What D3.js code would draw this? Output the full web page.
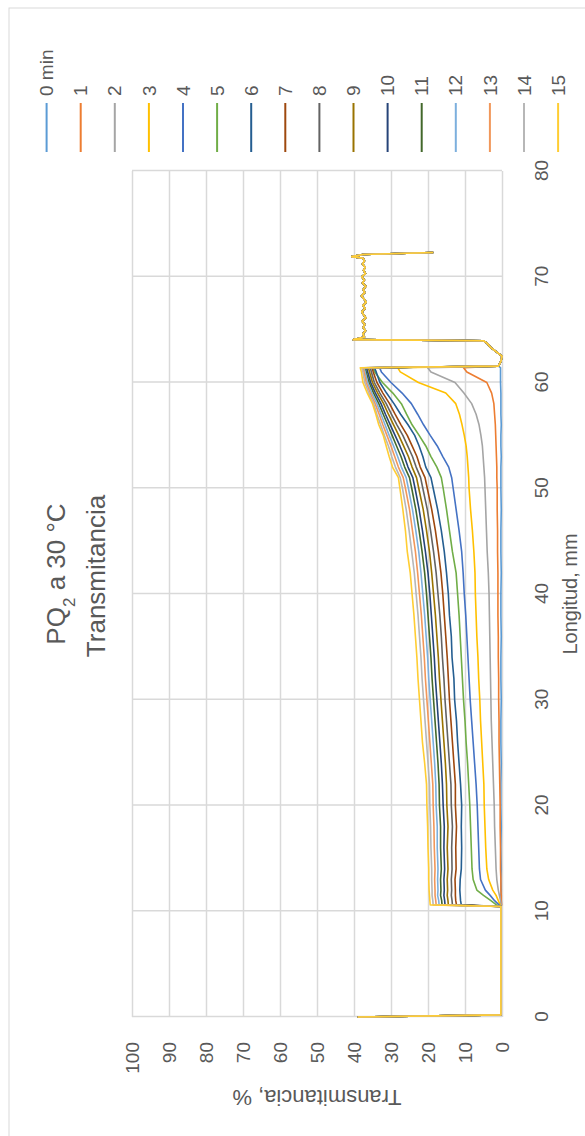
<!DOCTYPE html>
<html>
<head>
<meta charset="utf-8">
<script src="https://cdn.jsdelivr.net/npm/d3@7"></script>
<style>
  body { margin: 0; background: #fff; }
  svg text { font-family: "Liberation Sans", Arial, sans-serif; fill: #595959; }
</style>
</head>
<body>
<div class="chart"></div>
<script>
// series names and colours (Excel palette)
const seriesNames = ["0 min", "1", "2", "3", "4", "5", "6", "7", "8", "9", "10", "11", "12", "13", "14", "15"];
const seriesColors = ["#5B9BD5", "#ED7D31", "#A5A5A5", "#FFC000", "#4472C4", "#70AD47", "#255E91", "#9E480E",
                      "#636363", "#997300", "#264478", "#43682B", "#7CAFDD", "#F1975A", "#B7B7B7", "#FFCD33"];

const xTicks = [0, 10, 20, 30, 40, 50, 60, 70, 80];
const yTicks = [0, 10, 20, 30, 40, 50, 60, 70, 80, 90, 100];

// start of every profile (before the sample), mm / %
const headLengths = [0, 0.2, 10.45];
const headValues = [39, 0.3, 0.3];

// sample body, mm
const bodyLengths = [10.6, 11, 11.5, 12, 13, 14, 16, 18, 20, 22, 24, 26, 28, 30, 32, 34, 36, 38, 40, 42,
                     44, 46, 48, 50, 51, 52, 53, 54, 55, 56, 57, 58, 59, 60, 61, 61.4];

// transmittance along the body, % (one row per minute)
const body0 = [0.2,0.2,0.3,0.2,0.3,0.2,0.3,0.2,0.3,0.3,0.2,0.3,0.3,0.2,0.3,0.3,0.2,0.3,0.3,0.2,0.3,0.3,0.2,0.3,0.3,0.3,0.2,0.3,0.3,0.2,0.3,0.3,0.3,0.4,0.4,0.4];
const body1 = [0.1,0.2,0.2,0.3,0.3,0.4,0.4,0.5,0.5,0.6,0.7,0.8,0.8,0.9,0.9,1.0,1.0,1.1,1.1,1.1,1.2,1.2,1.3,1.3,1.4,1.4,1.5,1.6,1.7,1.8,2.0,2.2,2.8,4.1,9.5,10.4];
const body2 = [0.2,0.4,0.7,1.0,1.4,1.6,1.8,2.0,2.1,2.3,2.5,2.7,2.9,3.0,3.1,3.2,3.3,3.4,3.5,3.7,4.0,4.2,4.4,4.6,4.7,4.9,5.1,5.3,5.7,6.2,7.0,8.2,10.3,12.7,19.2,20.1];
const body3 = [0.5,1.0,1.6,2.5,3.6,4.1,4.4,4.6,4.8,4.9,5.2,5.5,5.8,6.0,6.3,6.5,6.8,7.0,7.2,7.3,7.6,8.0,8.5,8.9,9.0,9.2,9.4,9.7,10.2,10.8,11.5,12.5,15.2,22.6,27.5,28.2];
const body4 = [0.8,2.0,3.2,4.5,5.8,6.1,6.3,6.5,6.7,7.0,7.4,7.8,8.2,8.6,8.9,9.2,9.5,9.8,10.2,10.5,10.9,11.6,12.4,13.2,13.6,14.4,16.0,17.5,19.4,21.2,22.8,24.5,27.0,30.0,32.6,33.1];
const body5 = [1.5,3.0,5.0,6.8,7.8,8.1,8.3,8.5,8.7,9.0,9.3,9.7,10.0,10.4,10.7,11.0,11.3,11.6,12.0,12.4,13.4,14.2,15.0,15.9,16.4,17.6,19.2,20.6,22.4,24.3,25.8,27.2,29.5,32.3,34.4,34.9];
const body6 = [11.0,11.2,11.3,11.4,11.3,11.0,10.9,11.0,10.9,11.2,11.6,12.0,12.3,12.8,13.0,13.5,13.7,14.2,14.5,15.0,15.6,16.4,17.4,18.6,19.2,20.6,21.4,22.4,23.6,25.4,27.4,29.2,31.2,33.0,34.0,34.5];
const body7 = [12.3,12.5,12.6,12.6,12.7,12.4,12.5,12.3,12.6,12.6,13.0,13.4,13.8,14.2,14.5,14.8,15.2,15.6,16.0,16.5,17.2,18.0,19.0,20.2,20.8,22.1,23.0,24.3,25.6,27.3,28.9,30.4,32.2,33.8,34.8,35.1];
const body8 = [13.4,13.5,13.7,13.6,13.7,13.5,13.6,13.4,13.7,13.8,14.2,14.6,15.0,15.4,15.7,16.1,16.4,16.8,17.3,17.8,18.5,19.3,20.2,21.4,22.0,23.2,24.2,25.5,26.8,28.4,29.9,31.3,33.0,34.5,35.3,35.6];
const body9 = [14.5,14.6,14.8,14.7,14.8,14.6,14.8,14.6,14.9,15.0,15.3,15.7,16.1,16.5,16.9,17.2,17.6,18.0,18.5,19.0,19.6,20.4,21.3,22.5,23.1,24.3,25.3,26.6,27.9,29.3,30.7,32.0,33.6,35.0,35.8,36.1];
const body10 = [15.4,15.5,15.7,15.6,15.7,15.5,15.7,15.6,15.9,16.1,16.4,16.8,17.2,17.6,18.0,18.3,18.7,19.1,19.5,20.0,20.7,21.5,22.4,23.5,24.1,25.4,26.4,27.6,28.9,30.2,31.5,32.7,34.2,35.5,36.3,36.6];
const body11 = [16.2,16.3,16.6,16.5,16.6,16.4,16.6,16.6,16.9,17.0,17.3,17.7,18.1,18.5,18.9,19.2,19.6,20.0,20.4,20.9,21.6,22.4,23.3,24.4,25.0,26.3,27.3,28.5,29.7,30.9,32.1,33.3,34.7,35.9,36.7,37.0];
const body12 = [17.0,17.1,17.4,17.3,17.4,17.3,17.5,17.5,17.8,17.9,18.2,18.6,19.0,19.4,19.8,20.1,20.5,20.9,21.4,21.9,22.5,23.3,24.2,25.3,25.9,27.2,28.2,29.3,30.5,31.6,32.7,33.8,35.2,36.3,37.0,37.3];
const body13 = [17.8,17.9,18.1,18.1,18.2,18.1,18.3,18.4,18.6,18.7,19.1,19.5,19.9,20.3,20.7,21.0,21.4,21.8,22.3,22.8,23.4,24.2,25.0,26.1,26.7,28.0,29.0,30.0,31.1,32.2,33.2,34.3,35.6,36.7,37.3,37.6];
const body14 = [18.6,18.7,18.9,18.9,19.0,19.0,19.2,19.3,19.5,19.6,20.0,20.4,20.8,21.2,21.6,21.9,22.3,22.7,23.2,23.7,24.4,25.1,25.9,26.9,27.5,28.8,29.8,30.7,31.8,32.8,33.8,34.7,36.0,37.1,37.6,37.9];
const body15 = [19.4,19.5,19.6,19.7,19.8,19.8,20.0,20.1,20.3,20.4,20.9,21.5,21.9,22.3,22.7,23.0,23.4,23.8,24.3,24.8,25.6,26.1,26.8,27.6,28.0,29.6,30.5,31.3,32.1,33.3,34.1,35.0,36.4,37.6,38.0,38.3];

// end of every profile (after the sample), mm / %
const tailLengths = [61.55, 62.0, 62.5, 62.9, 63.3, 63.7, 63.95, 64.05, 64.3, 64.6, 64.9, 65.2, 65.5, 65.8,
                     66.1, 66.4, 66.7, 67.0, 67.3, 67.6, 67.9, 68.2, 68.5, 68.8, 69.1, 69.4, 69.7, 70.0,
                     70.3, 70.6, 70.9, 71.2, 71.5, 71.75, 71.9, 72.1, 72.3];
const tailValues = [1.0, 0.3, 0.0, 1.5, 3.0, 4.0, 5.0, 40.2, 37.2, 37.6, 36.9, 37.5, 37.1, 37.8,
                    36.8, 37.4, 37.9, 37.0, 37.6, 36.7, 37.3, 38.0, 37.1, 37.5, 36.8, 37.7, 37.2, 37.9,
                    36.9, 37.4, 37.0, 37.7, 37.2, 37.5, 40.6, 37.6, 18.6];

const bodies = [body0, body1, body2, body3, body4, body5, body6, body7, body8, body9, body10, body11, body12, body13, body14, body15];

(function(){
    const svgWidth = 585, svgHeight = 1136;

    // chart is drawn unrotated (1136 wide, 585 high), then turned a quarter left
    const plot = { left: 119, right: 965, top: 132, bottom: 502 };

    const svg = d3.select(".chart").append("svg")
        .attr("width", svgWidth)
        .attr("height", svgHeight);

    svg.append("rect").attr("width", svgWidth).attr("height", svgHeight).attr("fill", "#fff");

    const g = svg.append("g")
        .attr("transform", `translate(0, ${svgHeight}) rotate(-90)`);

    // chart area border
    g.append("rect")
        .attr("x", -5).attr("y", 9)
        .attr("width", 1133).attr("height", 600)
        .attr("fill", "none").attr("stroke", "#d9d9d9");

    const x = d3.scaleLinear().domain([0, 80]).range([plot.left, plot.right]);
    const y = d3.scaleLinear().domain([0, 100]).range([plot.bottom, plot.top]);

    // gridlines
    g.append("g")
        .attr("transform", `translate(0, ${plot.bottom})`)
        .call(d3.axisBottom(x).tickValues(xTicks).tickSize(-(plot.bottom - plot.top)).tickFormat(""))
        .call(s => s.select(".domain").remove())
        .call(s => s.selectAll("line").attr("stroke", "#d9d9d9").attr("stroke-width", 1.5));

    g.append("g")
        .attr("transform", `translate(${plot.left}, 0)`)
        .call(d3.axisLeft(y).tickValues(yTicks).tickSize(-(plot.right - plot.left)).tickFormat(""))
        .call(s => s.select(".domain").remove())
        .call(s => s.selectAll("line").attr("stroke", "#d9d9d9").attr("stroke-width", 1.5));

    // tick labels
    g.append("g")
        .attr("transform", `translate(0, ${plot.bottom})`)
        .call(d3.axisBottom(x).tickValues(xTicks).tickSize(0))
        .call(s => s.select(".domain").remove())
        .call(s => s.selectAll("text")
            .attr("y", 39).attr("dy", "0.35em")
            .style("font-size", "19px"));

    g.append("g")
        .attr("transform", `translate(${plot.left}, 0)`)
        .call(d3.axisLeft(y).tickValues(yTicks).tickSize(0))
        .call(s => s.select(".domain").remove())
        .call(s => s.selectAll("text")
            .attr("x", -25).attr("dy", "0.35em")
            .style("font-size", "19px"));

    // lines
    const line = d3.line().x(d => x(d[0])).y(d => y(d[1]));

    const series = bodies.map((b, i) => {
        const pts = [];
        headLengths.forEach((l, k) => pts.push([l, headValues[k]]));
        bodyLengths.forEach((l, k) => pts.push([l, b[k]]));
        tailLengths.forEach((l, k) => pts.push([l, tailValues[k]]));
        return { name: seriesNames[i], color: seriesColors[i], points: pts };
    });

    g.append("g").selectAll("path")
        .data(series)
        .enter()
        .append("path")
        .attr("d", d => line(d.points))
        .attr("fill", "none")
        .attr("stroke", d => d.color)
        .attr("stroke-width", 1.6)
        .attr("stroke-linejoin", "round");

    // axis titles
    g.append("text")
        .attr("x", (plot.left + plot.right) / 2)
        .attr("y", 570)
        .attr("dy", "0.35em")
        .attr("text-anchor", "middle")
        .style("font-size", "20px")
        .text("Longitud, mm");

    g.append("text")
        .attr("transform", `translate(38, ${(plot.top + plot.bottom) / 2}) rotate(-90)`)
        .attr("dy", "0.35em")
        .attr("text-anchor", "middle")
        .style("font-size", "22px")
        .text("Transmitancia, %");

    // title
    const t1 = g.append("text")
        .attr("x", 562).attr("y", 56).attr("dy", "0.35em")
        .attr("text-anchor", "middle")
        .style("font-size", "26px");
    t1.append("tspan").text("PQ");
    t1.append("tspan").attr("baseline-shift", "sub").style("font-size", "17px").text("2");
    t1.append("tspan").text(" a 30 °C");

    g.append("text")
        .attr("x", 560).attr("y", 96).attr("dy", "0.35em")
        .attr("text-anchor", "middle")
        .style("font-size", "26px")
        .text("Transmitancia");

    // legend
    const legend = g.append("g").selectAll("g")
        .data(series)
        .enter()
        .append("g")
        .attr("transform", (d, i) => `translate(0, ${46.6 + 34.1 * i})`);

    legend.append("line")
        .attr("x1", 984).attr("x2", 1033)
        .attr("stroke", d => d.color)
        .attr("stroke-width", 2);

    legend.append("text")
        .attr("x", 1040).attr("dy", "0.35em")
        .style("font-size", "19px")
        .text(d => d.name);
})();
</script>
</body>
</html>
